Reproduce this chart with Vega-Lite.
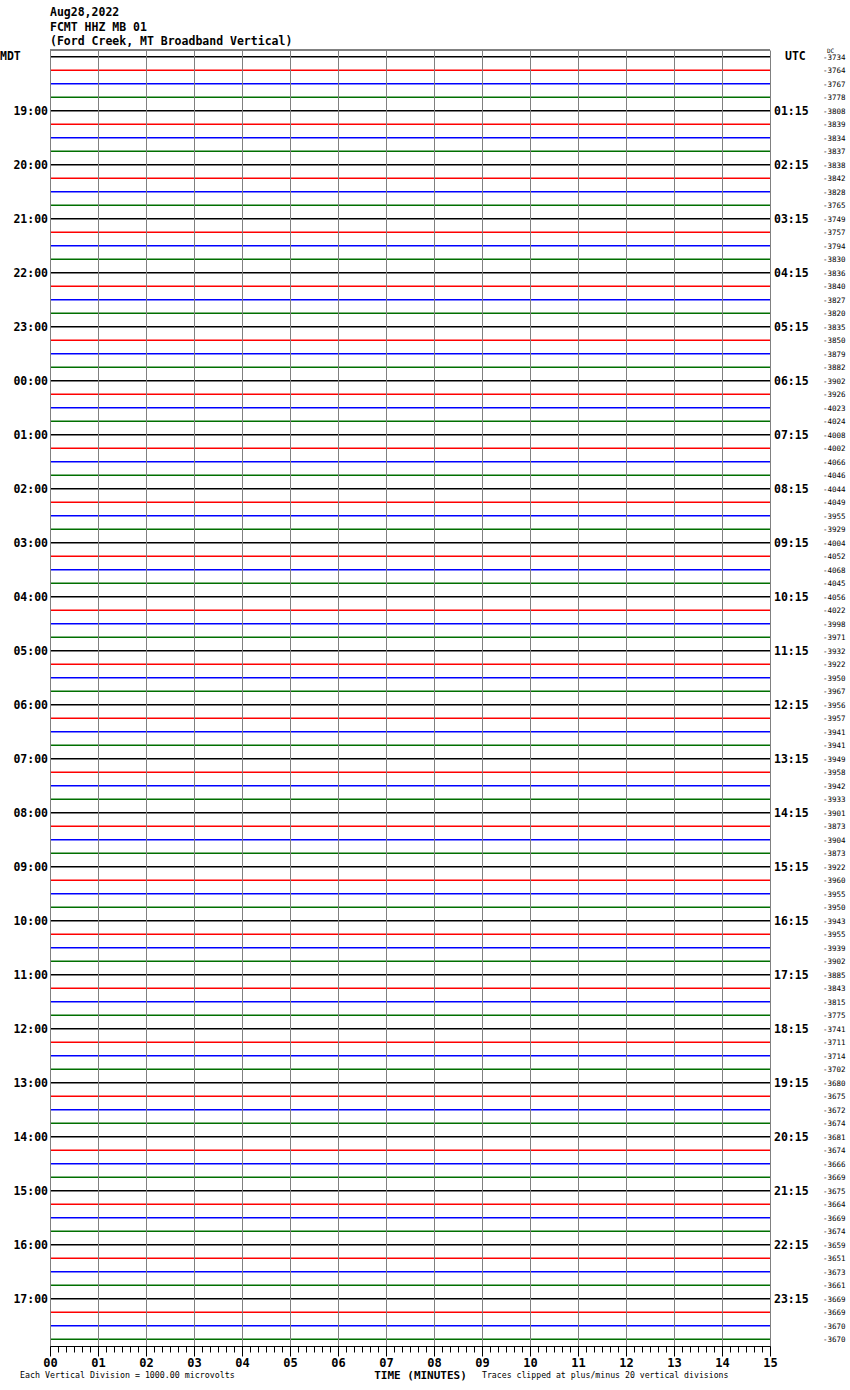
{
  "$schema": "https://vega.github.io/schema/vega-lite/v6.json",
  "width": 720,
  "height": 1296,
  "autosize": {"type": "none"},
  "padding": {"left": 50, "top": 50, "right": 80, "bottom": 44},
  "background": "white",
  "config": {"view": {"stroke": null}, "font": "DejaVu Sans Mono"},
  "title": {
    "text": ["Aug28,2022", "FCMT HHZ MB 01", "(Ford Creek, MT Broadband Vertical)"],
    "anchor": "start",
    "frame": "group",
    "font": "DejaVu Sans Mono",
    "fontSize": 11.5,
    "fontWeight": "bold",
    "lineHeight": 14.5,
    "offset": 0,
    "color": "black"
  },
  "data": {
    "values": [
      {"t": 0, "c": "k", "dc": "-3734"},
      {"t": 1, "c": "r", "dc": "-3764"},
      {"t": 2, "c": "b", "dc": "-3767"},
      {"t": 3, "c": "g", "dc": "-3778"},
      {"t": 4, "c": "k", "dc": "-3808", "l": "19:00", "r": "01:15"},
      {"t": 5, "c": "r", "dc": "-3839"},
      {"t": 6, "c": "b", "dc": "-3834"},
      {"t": 7, "c": "g", "dc": "-3837"},
      {"t": 8, "c": "k", "dc": "-3838", "l": "20:00", "r": "02:15"},
      {"t": 9, "c": "r", "dc": "-3842"},
      {"t": 10, "c": "b", "dc": "-3828"},
      {"t": 11, "c": "g", "dc": "-3765"},
      {"t": 12, "c": "k", "dc": "-3749", "l": "21:00", "r": "03:15"},
      {"t": 13, "c": "r", "dc": "-3757"},
      {"t": 14, "c": "b", "dc": "-3794"},
      {"t": 15, "c": "g", "dc": "-3830"},
      {"t": 16, "c": "k", "dc": "-3836", "l": "22:00", "r": "04:15"},
      {"t": 17, "c": "r", "dc": "-3840"},
      {"t": 18, "c": "b", "dc": "-3827"},
      {"t": 19, "c": "g", "dc": "-3820"},
      {"t": 20, "c": "k", "dc": "-3835", "l": "23:00", "r": "05:15"},
      {"t": 21, "c": "r", "dc": "-3850"},
      {"t": 22, "c": "b", "dc": "-3879"},
      {"t": 23, "c": "g", "dc": "-3882"},
      {"t": 24, "c": "k", "dc": "-3902", "l": "00:00", "r": "06:15"},
      {"t": 25, "c": "r", "dc": "-3926"},
      {"t": 26, "c": "b", "dc": "-4023"},
      {"t": 27, "c": "g", "dc": "-4024"},
      {"t": 28, "c": "k", "dc": "-4008", "l": "01:00", "r": "07:15"},
      {"t": 29, "c": "r", "dc": "-4002"},
      {"t": 30, "c": "b", "dc": "-4066"},
      {"t": 31, "c": "g", "dc": "-4046"},
      {"t": 32, "c": "k", "dc": "-4044", "l": "02:00", "r": "08:15"},
      {"t": 33, "c": "r", "dc": "-4049"},
      {"t": 34, "c": "b", "dc": "-3955"},
      {"t": 35, "c": "g", "dc": "-3929"},
      {"t": 36, "c": "k", "dc": "-4004", "l": "03:00", "r": "09:15"},
      {"t": 37, "c": "r", "dc": "-4052"},
      {"t": 38, "c": "b", "dc": "-4068"},
      {"t": 39, "c": "g", "dc": "-4045"},
      {"t": 40, "c": "k", "dc": "-4056", "l": "04:00", "r": "10:15"},
      {"t": 41, "c": "r", "dc": "-4022"},
      {"t": 42, "c": "b", "dc": "-3998"},
      {"t": 43, "c": "g", "dc": "-3971"},
      {"t": 44, "c": "k", "dc": "-3932", "l": "05:00", "r": "11:15"},
      {"t": 45, "c": "r", "dc": "-3922"},
      {"t": 46, "c": "b", "dc": "-3950"},
      {"t": 47, "c": "g", "dc": "-3967"},
      {"t": 48, "c": "k", "dc": "-3956", "l": "06:00", "r": "12:15"},
      {"t": 49, "c": "r", "dc": "-3957"},
      {"t": 50, "c": "b", "dc": "-3941"},
      {"t": 51, "c": "g", "dc": "-3941"},
      {"t": 52, "c": "k", "dc": "-3949", "l": "07:00", "r": "13:15"},
      {"t": 53, "c": "r", "dc": "-3958"},
      {"t": 54, "c": "b", "dc": "-3942"},
      {"t": 55, "c": "g", "dc": "-3933"},
      {"t": 56, "c": "k", "dc": "-3901", "l": "08:00", "r": "14:15"},
      {"t": 57, "c": "r", "dc": "-3873"},
      {"t": 58, "c": "b", "dc": "-3904"},
      {"t": 59, "c": "g", "dc": "-3873"},
      {"t": 60, "c": "k", "dc": "-3922", "l": "09:00", "r": "15:15"},
      {"t": 61, "c": "r", "dc": "-3960"},
      {"t": 62, "c": "b", "dc": "-3955"},
      {"t": 63, "c": "g", "dc": "-3950"},
      {"t": 64, "c": "k", "dc": "-3943", "l": "10:00", "r": "16:15"},
      {"t": 65, "c": "r", "dc": "-3955"},
      {"t": 66, "c": "b", "dc": "-3939"},
      {"t": 67, "c": "g", "dc": "-3902"},
      {"t": 68, "c": "k", "dc": "-3885", "l": "11:00", "r": "17:15"},
      {"t": 69, "c": "r", "dc": "-3843"},
      {"t": 70, "c": "b", "dc": "-3815"},
      {"t": 71, "c": "g", "dc": "-3775"},
      {"t": 72, "c": "k", "dc": "-3741", "l": "12:00", "r": "18:15"},
      {"t": 73, "c": "r", "dc": "-3711"},
      {"t": 74, "c": "b", "dc": "-3714"},
      {"t": 75, "c": "g", "dc": "-3702"},
      {"t": 76, "c": "k", "dc": "-3680", "l": "13:00", "r": "19:15"},
      {"t": 77, "c": "r", "dc": "-3675"},
      {"t": 78, "c": "b", "dc": "-3672"},
      {"t": 79, "c": "g", "dc": "-3674"},
      {"t": 80, "c": "k", "dc": "-3681", "l": "14:00", "r": "20:15"},
      {"t": 81, "c": "r", "dc": "-3674"},
      {"t": 82, "c": "b", "dc": "-3666"},
      {"t": 83, "c": "g", "dc": "-3669"},
      {"t": 84, "c": "k", "dc": "-3675", "l": "15:00", "r": "21:15"},
      {"t": 85, "c": "r", "dc": "-3664"},
      {"t": 86, "c": "b", "dc": "-3669"},
      {"t": 87, "c": "g", "dc": "-3674"},
      {"t": 88, "c": "k", "dc": "-3659", "l": "16:00", "r": "22:15"},
      {"t": 89, "c": "r", "dc": "-3651"},
      {"t": 90, "c": "b", "dc": "-3673"},
      {"t": 91, "c": "g", "dc": "-3661"},
      {"t": 92, "c": "k", "dc": "-3669", "l": "17:00", "r": "23:15"},
      {"t": 93, "c": "r", "dc": "-3669"},
      {"t": 94, "c": "b", "dc": "-3670"},
      {"t": 95, "c": "g", "dc": "-3670"}
    ]
  },
  "resolve": {"axis": {"x": "independent"}},
  "layer": [
    {
      "mark": {"type": "rule", "strokeWidth": 1.5},
      "encoding": {
        "x": {
          "datum": 0,
          "type": "quantitative",
          "scale": {"domain": [0, 15], "nice": false, "zero": false},
          "axis": {
            "orient": "bottom",
            "values": [0, 1, 2, 3, 4, 5, 6, 7, 8, 9, 10, 11, 12, 13, 14, 15],
            "labelExpr": "datum.value < 10 ? '0' + datum.label : datum.label",
            "grid": true,
            "gridColor": "#808080",
            "gridOpacity": 1,
            "gridWidth": 1,
            "tickSize": 10,
            "tickColor": "black",
            "tickWidth": 1,
            "domainColor": "black",
            "domainWidth": 1,
            "labelFont": "DejaVu Sans Mono",
            "labelFontWeight": "bold",
            "labelFontSize": 12,
            "labelColor": "black",
            "labelPadding": 1,
            "labelFlush": false,
            "labelOverlap": false,
            "title": "TIME (MINUTES)",
            "titleFont": "DejaVu Sans Mono",
            "titleFontSize": 11,
            "titleFontWeight": "bold",
            "titleColor": "black",
            "titlePadding": 1,
            "titleX": 370,
            "zindex": 1
          }
        },
        "x2": {"datum": 15},
        "y": {
          "field": "t",
          "type": "quantitative",
          "scale": {"domain": [-0.5, 95.5], "reverse": true, "nice": false, "zero": false},
          "axis": null
        },
        "color": {
          "field": "c",
          "type": "nominal",
          "scale": {"domain": ["k", "r", "b", "g"], "range": ["#000000", "#ff0000", "#0000ff", "#006f00"]},
          "legend": null
        }
      }
    },
    {
      "transform": [{"filter": "datum.t == 0"}],
      "mark": {"type": "rule", "color": "black", "strokeWidth": 1},
      "encoding": {
        "x": {
          "datum": 0,
          "type": "quantitative",
          "axis": {
            "orient": "bottom",
            "values": [0, 0.1667, 0.3333, 0.5, 0.6667, 0.8333, 1, 1.1667, 1.3333, 1.5, 1.6667, 1.8333, 2, 2.1667, 2.3333, 2.5, 2.6667, 2.8333, 3, 3.1667, 3.3333, 3.5, 3.6667, 3.8333, 4, 4.1667, 4.3333, 4.5, 4.6667, 4.8333, 5, 5.1667, 5.3333, 5.5, 5.6667, 5.8333, 6, 6.1667, 6.3333, 6.5, 6.6667, 6.8333, 7, 7.1667, 7.3333, 7.5, 7.6667, 7.8333, 8, 8.1667, 8.3333, 8.5, 8.6667, 8.8333, 9, 9.1667, 9.3333, 9.5, 9.6667, 9.8333, 10, 10.1667, 10.3333, 10.5, 10.6667, 10.8333, 11, 11.1667, 11.3333, 11.5, 11.6667, 11.8333, 12, 12.1667, 12.3333, 12.5, 12.6667, 12.8333, 13, 13.1667, 13.3333, 13.5, 13.6667, 13.8333, 14, 14.1667, 14.3333, 14.5, 14.6667, 14.8333, 15],
            "labels": false,
            "domain": false,
            "grid": false,
            "tickSize": 6,
            "tickColor": "black",
            "tickWidth": 1,
            "title": null
          }
        },
        "x2": {"datum": 15},
        "y": {"datum": -0.5, "type": "quantitative", "axis": null}
      }
    },
    {
      "transform": [{"filter": "isValid(datum.l)"}],
      "mark": {"type": "text", "align": "right", "baseline": "middle", "dx": -2, "dy": 1, "font": "DejaVu Sans Mono", "fontSize": 11.5, "fontWeight": "bold", "color": "black"},
      "encoding": {
        "x": {"datum": 0, "type": "quantitative", "axis": null},
        "y": {"field": "t", "type": "quantitative", "axis": null},
        "text": {"field": "l"}
      }
    },
    {
      "transform": [{"filter": "isValid(datum.r)"}],
      "mark": {"type": "text", "align": "left", "baseline": "middle", "dx": 4, "dy": 1, "font": "DejaVu Sans Mono", "fontSize": 11.5, "fontWeight": "bold", "color": "black"},
      "encoding": {
        "x": {"datum": 15, "type": "quantitative", "axis": null},
        "y": {"field": "t", "type": "quantitative", "axis": null},
        "text": {"field": "r"}
      }
    },
    {
      "mark": {"type": "text", "align": "left", "baseline": "middle", "dx": 53, "dy": 1, "font": "DejaVu Sans Mono", "fontSize": 7.5, "color": "black"},
      "encoding": {
        "x": {"datum": 15, "type": "quantitative", "axis": null},
        "y": {"field": "t", "type": "quantitative", "axis": null},
        "text": {"field": "dc"}
      }
    },
    {
      "transform": [{"filter": "datum.t == 0"}],
      "mark": {"type": "text", "align": "left", "baseline": "middle", "dx": -50, "font": "DejaVu Sans Mono", "fontSize": 11.5, "fontWeight": "bold", "color": "black", "text": "MDT"},
      "encoding": {
        "x": {"datum": 0, "type": "quantitative", "axis": null},
        "y": {"field": "t", "type": "quantitative", "axis": null}
      }
    },
    {
      "transform": [{"filter": "datum.t == 0"}],
      "mark": {"type": "text", "align": "left", "baseline": "middle", "dx": 15, "font": "DejaVu Sans Mono", "fontSize": 11.5, "fontWeight": "bold", "color": "black", "text": "UTC"},
      "encoding": {
        "x": {"datum": 15, "type": "quantitative", "axis": null},
        "y": {"field": "t", "type": "quantitative", "axis": null}
      }
    },
    {
      "transform": [{"filter": "datum.t == 0"}],
      "mark": {"type": "text", "align": "left", "baseline": "bottom", "dx": 57, "dy": -3, "font": "DejaVu Sans Mono", "fontSize": 6, "color": "black", "text": "DC"},
      "encoding": {
        "x": {"datum": 15, "type": "quantitative", "axis": null},
        "y": {"field": "t", "type": "quantitative", "axis": null}
      }
    },
    {
      "transform": [{"filter": "datum.t == 95"}],
      "mark": {"type": "text", "align": "left", "baseline": "middle", "dx": -30, "dy": 37, "font": "DejaVu Sans Mono", "fontSize": 8.3, "color": "black", "text": "Each Vertical Division = 1000.00 microvolts"},
      "encoding": {
        "x": {"datum": 0, "type": "quantitative", "axis": null},
        "y": {"field": "t", "type": "quantitative", "axis": null}
      }
    },
    {
      "transform": [{"filter": "datum.t == 95"}],
      "mark": {"type": "text", "align": "left", "baseline": "middle", "dx": 0, "dy": 37, "font": "DejaVu Sans Mono", "fontSize": 8.2, "color": "black", "text": "Traces clipped at plus/minus 20 vertical divisions"},
      "encoding": {
        "x": {"datum": 9, "type": "quantitative", "axis": null},
        "y": {"field": "t", "type": "quantitative", "axis": null}
      }
    }
  ]
}
